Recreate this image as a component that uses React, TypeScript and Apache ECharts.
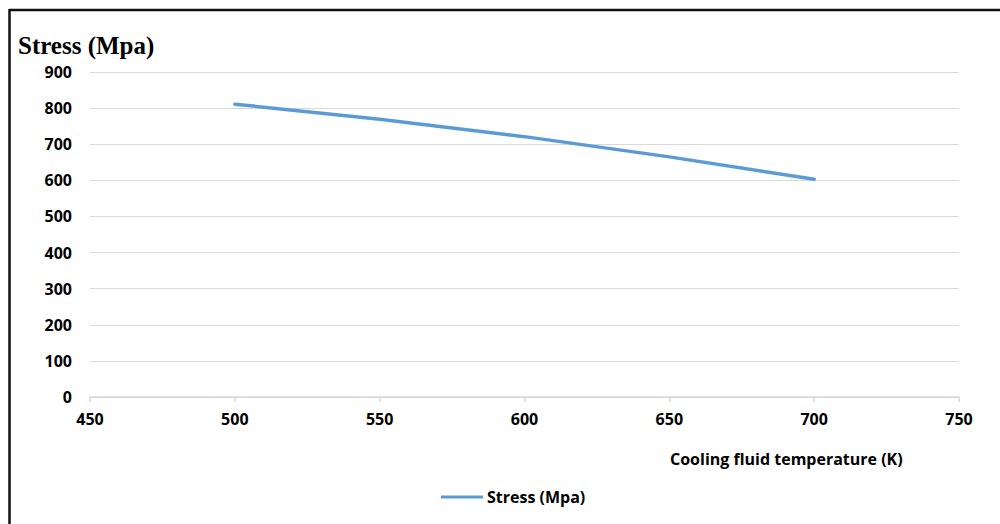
import React, { useEffect, useRef } from "react";
import * as echarts from "echarts";

const temperatures = [500, 550, 600, 650, 700];
const stress = [811, 769, 721, 665, 603];
const seriesName = "Stress (Mpa)";
const yTitle = "Stress (Mpa)";
const xTitle = "Cooling fluid temperature (K)";

const labelFont = "'Open Sans', sans-serif";

export default function App() {
  const ref = useRef<HTMLDivElement>(null);
  useEffect(() => {
    if (!ref.current) return;
    const chart = echarts.init(ref.current, undefined, { renderer: "svg" });
    chart.setOption({
      animation: false,
      backgroundColor: "#ffffff",
      grid: { left: 90, right: 41, top: 72, bottom: 127 },
      xAxis: {
        type: "value",
        min: 450,
        max: 750,
        interval: 50,
        axisLine: { show: true, lineStyle: { color: "#d9d9d9", width: 1.5 } },
        axisTick: { show: true, length: 5, lineStyle: { color: "#d9d9d9", width: 1.5 } },
        splitLine: { show: false },
        axisLabel: { color: "#000", fontFamily: labelFont, fontWeight: "bold", fontSize: 16, margin: 14 },
      },
      yAxis: {
        type: "value",
        min: 0,
        max: 900,
        interval: 100,
        axisLine: { show: false },
        axisTick: { show: false },
        splitLine: { show: true, lineStyle: { color: "#d9d9d9", width: 1 } },
        axisLabel: { color: "#000", fontFamily: labelFont, fontWeight: "bold", fontSize: 16, margin: 18 },
      },
      legend: {
        left: 436,
        top: 484,
        icon: "path://M0,0 L42,0 L42,3 L0,3 Z",
        itemWidth: 42,
        itemHeight: 3,
        itemGap: 4,
        textStyle: { color: "#000", fontFamily: labelFont, fontWeight: "bold", fontSize: 16, padding: [0, 0, 0, -1] },
        data: [seriesName],
      },
      graphic: [
        { type: "line", shape: { x1: 9, y1: 10, x2: 1000, y2: 10 }, style: { stroke: "#111", lineWidth: 2.5 } },
        { type: "line", shape: { x1: 9.5, y1: 9, x2: 9.5, y2: 524 }, style: { stroke: "#111", lineWidth: 2.5 } },
        {
          type: "text",
          left: 18,
          top: 33,
          style: { text: yTitle, fill: "#000", font: "bold 25px 'Liberation Serif', 'Times New Roman', serif" },
        },
        {
          type: "text",
          left: 670,
          top: 451,
          style: { text: xTitle, fill: "#000", font: "bold 16px 'Open Sans', sans-serif" },
        },
      ],
      series: [
        {
          name: seriesName,
          type: "line",
          data: temperatures.map((t, i) => [t, stress[i]]),
          showSymbol: false,
          symbol: "none",
          lineStyle: { color: "#5b9bd5", width: 3.5, cap: "round" },
          itemStyle: { color: "#5b9bd5" },
        },
      ],
    });
    return () => chart.dispose();
  }, []);
  return (
    <div
      ref={ref}
      style={{ position: "fixed", left: 0, top: 0, width: 1000, height: 524 }}
    />
  );
}
